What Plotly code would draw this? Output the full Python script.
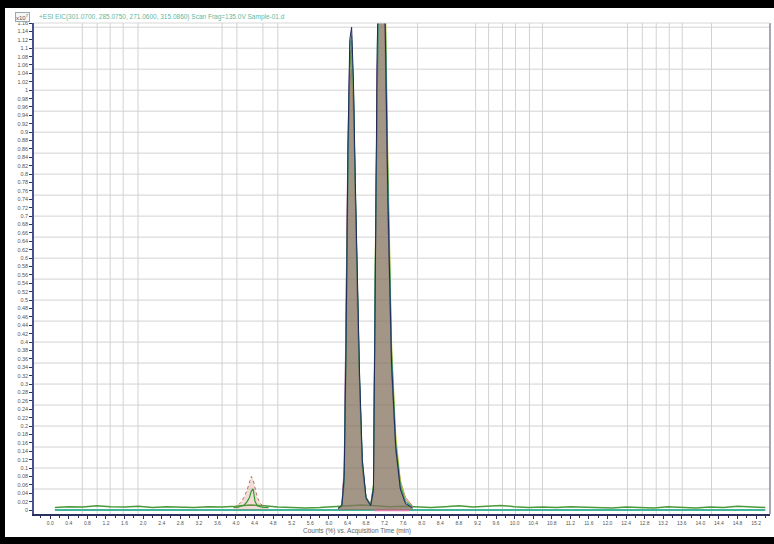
import plotly.graph_objects as go

# ---------------- data ----------------
PEAK_T = [6.20, 6.28, 6.33, 6.37, 6.41, 6.45, 6.49, 6.53, 6.57, 6.61, 6.66, 6.72, 6.80,
          6.90, 6.96, 7.00, 7.04, 7.09, 7.14, 7.20, 7.27, 7.35, 7.44, 7.54, 7.65, 7.80]
TRACE_NAMES = ["EIC 1", "EIC 2", "EIC 3", "EIC 4", "EIC 5", "EIC 6"]
TRACE_A = [0.004, 0.010, 0.08, 0.40, 0.85, 1.12, 1.15, 1.02, 0.78, 0.55, 0.33, 0.12, 0.030,
           0.010, 0.05, 0.55, 1.10, 1.35, 1.40, 1.25, 0.75, 0.35, 0.15, 0.05, 0.015, 0.005]
TRACE_B = [0.003, 0.012, 0.10, 0.45, 0.88, 1.08, 1.10, 0.98, 0.74, 0.50, 0.30, 0.10, 0.025,
           0.010, 0.04, 0.50, 1.05, 1.30, 1.36, 1.22, 0.72, 0.33, 0.14, 0.05, 0.020, 0.006]
TRACE_C = [0.005, 0.012, 0.06, 0.35, 0.80, 1.05, 1.12, 1.00, 0.76, 0.52, 0.31, 0.11, 0.030,
           0.012, 0.06, 0.60, 1.15, 1.40, 1.45, 1.30, 0.80, 0.38, 0.16, 0.06, 0.020, 0.008]
TRACE_D = [0.004, 0.010, 0.07, 0.38, 0.82, 1.06, 1.09, 0.97, 0.75, 0.52, 0.31, 0.11, 0.030,
           0.010, 0.06, 0.62, 1.18, 1.45, 1.50, 1.35, 0.85, 0.40, 0.18, 0.07, 0.025, 0.008]
TRACE_E = [0.004, 0.010, 0.09, 0.42, 0.84, 1.02, 1.05, 0.94, 0.72, 0.50, 0.30, 0.10, 0.030,
           0.015, 0.05, 0.52, 1.05, 1.28, 1.32, 1.18, 0.70, 0.34, 0.15, 0.07, 0.030, 0.010]
TRACE_F = [0.003, 0.010, 0.07, 0.40, 0.86, 1.10, 1.13, 1.00, 0.77, 0.53, 0.32, 0.12, 0.030,
           0.010, 0.05, 0.58, 1.12, 1.38, 1.42, 1.28, 0.78, 0.36, 0.15, 0.05, 0.020, 0.006]

SMALL_T = [3.95, 4.05, 4.12, 4.18, 4.24, 4.29, 4.33, 4.37, 4.41, 4.46, 4.52, 4.60, 4.70]
SMALL_PINK = [0.006, 0.012, 0.020, 0.032, 0.048, 0.065, 0.080, 0.072, 0.050, 0.030, 0.016, 0.008, 0.005]
SMALL_GREEN = [0.006, 0.007, 0.010, 0.012, 0.020, 0.030, 0.045, 0.050, 0.020, 0.010, 0.008, 0.006, 0.006]

BASE_T = [0.1, 0.4, 0.7, 1.0, 1.3, 1.6, 1.9, 2.2, 2.5, 2.8, 3.1, 3.4, 3.7, 4.0, 4.3, 4.6, 4.9,
          5.2, 5.5, 5.8, 6.1, 6.4, 6.7, 7.0, 7.3, 7.6, 7.9, 8.2, 8.5, 8.8, 9.1, 9.4, 9.7, 10.0,
          10.3, 10.6, 10.9, 11.2, 11.5, 11.8, 12.1, 12.4, 12.7, 13.0, 13.3, 13.6, 13.9, 14.2,
          14.5, 14.8, 15.1, 15.4]
BASE_G = [0.006, 0.008, 0.007, 0.010, 0.008, 0.007, 0.009, 0.006, 0.008, 0.007,
          0.006, 0.008, 0.007, 0.009, 0.012, 0.010, 0.007, 0.006, 0.005, 0.006,
          0.008, 0.010, 0.012, 0.010, 0.008, 0.009, 0.007, 0.006, 0.008, 0.010,
          0.007, 0.009, 0.011, 0.008, 0.006, 0.007, 0.006, 0.008, 0.007, 0.006,
          0.005, 0.007, 0.006, 0.005, 0.008, 0.006, 0.005, 0.007, 0.006, 0.009,
          0.007, 0.006]
TEAL_T = [0.1, 15.4]
TEAL_Y = [0.0, 0.0]
PINK_T = [6.98, 7.74]
PINK_Y = [0.0, 0.0]

GRID_X = [0.69, 1.01, 1.29, 1.57, 1.89, 3.70, 4.02, 4.58, 4.90, 7.91, 9.16, 9.44,
          9.74, 10.02, 10.32, 10.60, 12.43, 12.75, 13.05, 13.33, 13.61, 14.24]
GRID_Y = [0.05, 0.10, 0.15, 0.20, 0.25, 0.30, 0.35, 0.40, 0.45, 0.50, 0.55, 0.60,
          0.65, 0.70, 0.75, 0.80, 0.85, 0.90, 0.95, 1.00, 1.05, 1.10, 1.15]

TITLE_TEXT = "+ESI EIC(301.0700, 285.0750, 271.0600, 315.0860) Scan Frag=135.0V Sample-01.d"
X_TITLE = "Counts (%) vs. Acquisition Time (min)"
Y_SCALE = "x10<sup>7</sup>"

XR = [-0.35, 15.5]
YR = [-0.0095, 1.16]

# ---------------- figure ----------------
fig = go.Figure()

fig.add_trace(go.Scatter(x=BASE_T, y=BASE_G, mode="lines",
                         line=dict(color="#4a9a3a", width=1.5), showlegend=False))
fig.add_trace(go.Scatter(x=TEAL_T, y=TEAL_Y, mode="lines",
                         line=dict(color="#3fb59a", width=2), showlegend=False))
fig.add_trace(go.Scatter(x=PINK_T, y=PINK_Y, mode="lines",
                         line=dict(color="#e07ab0", width=2.5), showlegend=False))

fig.add_trace(go.Scatter(x=SMALL_T, y=SMALL_PINK, mode="lines", fill="tozeroy",
                         fillcolor="rgba(200,120,100,0.25)",
                         line=dict(color="#c06a5a", width=1, dash="dot"), showlegend=False))
fig.add_trace(go.Scatter(x=SMALL_T, y=SMALL_GREEN, mode="lines",
                         line=dict(color="#2f9a2f", width=1.2), showlegend=False))

series = [
    (TRACE_E, "#d47a9a", "rgba(205,120,150,0.35)"),
    (TRACE_B, "#8a4a9a", "rgba(138,74,154,0.22)"),
    (TRACE_D, "#b8c83a", "rgba(184,200,58,0.12)"),
    (TRACE_C, "#3a9a3a", "rgba(58,154,58,0.12)"),
    (TRACE_F, "#3ab0b0", "rgba(58,176,176,0.08)"),
    (TRACE_A, "#1f2a5a", "rgba(130,100,70,0.35)"),
]
for (vals, col, fcol), name in zip(series, TRACE_NAMES):
    fig.add_trace(go.Scatter(x=PEAK_T, y=vals, mode="lines", name=name,
                             fill="tozeroy", fillcolor=fcol,
                             line=dict(color=col, width=1), showlegend=False))

# paper geometry helpers (figure 774x544, plot area x 34..770, y 23..514)
L, R, T, B = 34, 4, 23, 30
W, H = 774, 544
PW, PH = W - L - R, H - T - B
def px(x):
    return (x - L) / PW
def py(y):
    return (H - B - y) / PH

GRID_STYLE = dict(color="#d2d2d2", width=1)
shapes = []
for gx in GRID_X:
    shapes.append(dict(type="line", xref="x", yref="paper", x0=gx, x1=gx, y0=0, y1=1,
                       line=GRID_STYLE, layer="below"))
for gy in GRID_Y:
    shapes.append(dict(type="line", xref="paper", yref="y", x0=0, x1=1, y0=gy, y1=gy,
                       line=GRID_STYLE, layer="below"))
shapes += [
    dict(type="rect", xref="paper", yref="paper", x0=px(0), x1=px(W), y0=py(0), y1=py(8),
         fillcolor="black", line=dict(width=0), layer="above"),
    dict(type="rect", xref="paper", yref="paper", x0=px(0), x1=px(W), y0=py(537), y1=py(H),
         fillcolor="black", line=dict(width=0), layer="above"),
    dict(type="rect", xref="paper", yref="paper", x0=px(0), x1=px(5), y0=py(0), y1=py(H),
         fillcolor="black", line=dict(width=0), layer="above"),
    dict(type="line", xref="paper", yref="paper", x0=1, x1=1, y0=0, y1=1,
         line=dict(color="#8a8a9a", width=1.5), layer="above"),
    dict(type="line", xref="paper", yref="paper", x0=0, x1=1, y0=1, y1=1,
         line=dict(color="#d8d8d8", width=1), layer="above"),
]

annotations = [
    dict(text=Y_SCALE, xref="paper", yref="paper", x=px(22), y=py(17), showarrow=False,
         font=dict(size=6, color="#555", family="Liberation Sans"),
         bordercolor="#9aa", borderwidth=1, borderpad=0,
         bgcolor="#f4f6f8", xanchor="center", yanchor="middle"),
    dict(text=TITLE_TEXT, xref="paper", yref="paper", x=px(37), y=py(17), showarrow=False,
         font=dict(size=6.5, color="#5fb8a0", family="Liberation Sans"),
         xanchor="left", yanchor="middle"),
    dict(text=X_TITLE, xref="paper", yref="paper", x=px(357), y=py(531), showarrow=False,
         font=dict(size=6.5, color="#666", family="Liberation Sans"),
         xanchor="center", yanchor="middle"),
]

fig.update_layout(
    width=W, height=H,
    margin=dict(l=L, r=R, t=T, b=B, autoexpand=False),
    paper_bgcolor="white", plot_bgcolor="white",
    showlegend=False,
    shapes=shapes, annotations=annotations,
    xaxis=dict(range=XR, dtick=0.4, tick0=0, showgrid=False, zeroline=False,
               automargin=False,
               showline=True, linecolor="#2a3060", linewidth=2,
               ticks="outside", ticklen=3, tickcolor="#2a3060", tickangle=0,
               tickfont=dict(size=5, color="#555", family="Liberation Sans"),
               tickformat=".1f",
               minor=dict(dtick=0.2, tick0=0, ticks="outside", ticklen=2,
                          tickcolor="#2a3060", showgrid=False)),
    yaxis=dict(range=YR, dtick=0.02, tick0=0, showgrid=False, zeroline=False,
               automargin=False,
               showline=True, linecolor="#4a5090", linewidth=1.5,
               ticks="outside", ticklen=3, tickcolor="#2a3060",
               tickfont=dict(size=5.5, color="#555", family="Liberation Sans"),
               tickformat=".2~f"),
)

fig.write_html("out.html",
               config={"displayModeBar": False},
               post_script="document.body.style.margin='0';document.body.style.overflow='hidden';")
